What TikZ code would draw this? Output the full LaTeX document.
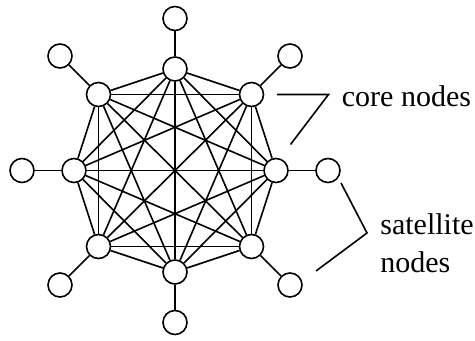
\documentclass[tikz,border=0pt]{standalone}
\usepackage{fontspec}
\setmainfont{Liberation Serif}
\tikzset{
	core/.style={circle, draw, fill=white, minimum size=12pt, inner sep=0pt, line width=0.8pt},
	sat/.style={core},
	link/.style={black, line width=0.8pt},
	leader/.style={black, line width=0.8pt},
	labeltext/.style={font=\fontsize{15}{18.7}\selectfont, inner sep=0pt},
}

\begin{document}
\begin{tikzpicture}[x=0.5pt, y=-0.5pt]
	
	% Frame in pixel units of the original
	\useasboundingbox (0,0) rectangle (475,341);
	
	% Core nodes (octagon)
	\node[core] (c1) at (175,69)    {};
	\node[core] (c2) at (251.5,94.5) {};
	\node[core] (c3) at (276,170.5)  {};
	\node[core] (c4) at (251.5,246.5) {};
	\node[core] (c5) at (175,272)    {};
	\node[core] (c6) at (98.5,246.5) {};
	\node[core] (c7) at (74,170.5)   {};
	\node[core] (c8) at (98.5,94.5)  {};
	
	% Satellite nodes
	\node[sat] (s1) at (175,18.5) {};
	\node[sat] (s2) at (290,56)   {};
	\node[sat] (s3) at (328,170.5) {};
	\node[sat] (s4) at (290,285)  {};
	\node[sat] (s5) at (175,322.5) {};
	\node[sat] (s6) at (60,285)   {};
	\node[sat] (s7) at (22,170.5) {};
	\node[sat] (s8) at (60,56)    {};
	
	% Every core node linked to every other one
	\foreach \i in {1,...,7} {
		\pgfmathtruncatemacro\k{\i+1}
		\foreach \j in {\k,...,8} {
			\draw[link] (c\i) -- (c\j);
		}
	}
	
	% Each satellite hangs on one core node
	\foreach \i in {1,...,8} {
		\draw[link] (s\i) -- (c\i);
	}
	
	% Labels with leader lines
	\coordinate (cl1) at (277,94.5);
	\coordinate (cl2) at (328.5,94.5);
	\coordinate (cl3) at (290.5,144.5);
	\draw[leader] (cl1) -- (cl2) -- (cl3);
	\node[labeltext, anchor=base west] (corelabel) at (341.5,107) {core nodes};
	
	\coordinate (sl1) at (341,183);
	\coordinate (sl2) at (367,233);
	\coordinate (sl3) at (316,271);
	\draw[leader] (sl1) -- (sl2) -- (sl3);
	\node[labeltext, anchor=base west, align=left] (satlabel) at (380,272) {satellite\\nodes};
	
\end{tikzpicture}
\end{document}
